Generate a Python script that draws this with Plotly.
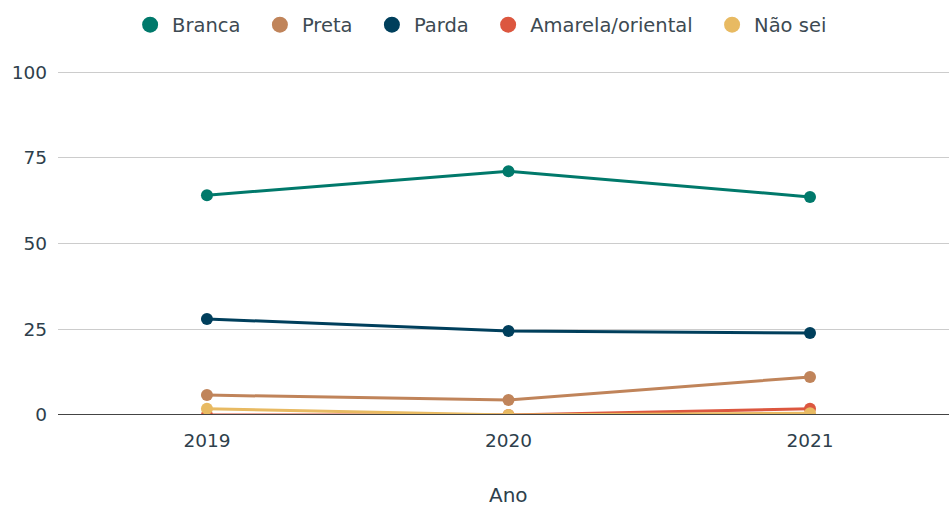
import plotly.graph_objects as go

anos = [2019, 2020, 2021]

categorias = ["Branca", "Preta", "Parda", "Amarela/oriental", "Não sei"]
branca = [64.1, 71.1, 63.6]
preta = [5.8, 4.4, 11.1]
parda = [28.0, 24.5, 23.9]
amarela = [0.0, 0.0, 1.8]
nao_sei = [1.8, 0.0, 0.5]

cores = ["#00796b", "#c0845a", "#003f5c", "#dc573f", "#e8ba62"]

series = [branca, preta, parda, amarela, nao_sei]

fig = go.Figure()
for i, (nome, valores, cor) in enumerate(zip(categorias, series, cores)):
    # linha + pontos, sem legenda
    fig.add_trace(go.Scatter(
        x=anos,
        y=valores,
        name=nome,
        mode="lines+markers",
        line=dict(color=cor, width=3),
        marker=dict(color=cor, size=12),
        showlegend=False,
        legendgroup=nome,
    ))
    # entrada da legenda só com o círculo (espaços no fim para afastar os itens)
    rotulo = nome if i == len(categorias) - 1 else nome + "\u00a0\u00a0"
    fig.add_trace(go.Scatter(
        x=[None],
        y=[None],
        name=rotulo,
        mode="markers",
        marker=dict(color=cor, size=20),
        legendgroup=nome,
    ))

fig.update_layout(
    width=949,
    height=506,
    margin=dict(l=58, r=0, t=55, b=91),
    plot_bgcolor="white",
    paper_bgcolor="white",
    font=dict(family="DejaVu Sans", size=18.5, color="#2e3f4c"),
    legend=dict(
        orientation="h",
        xref="container", yref="container",
        x=0.135, xanchor="left",
        y=0.9506, yanchor="middle",
        itemwidth=34,
        font=dict(size=19.5, color="#3d4a52"),
    ),
    xaxis=dict(
        range=[2018.506, 2021.461],
        tickvals=anos,
        ticktext=[str(a) for a in anos],
        showgrid=False,
        zeroline=False,
        showline=False,
        automargin=False,
        ticklabelstandoff=12,
    ),
    yaxis=dict(
        range=[0, 105],
        tickvals=[0, 25, 50, 75, 100],
        gridcolor="#cccccc",
        gridwidth=1,
        zeroline=False,
        showline=False,
        ticks="",
        automargin=False,
        ticklabelstandoff=10,
    ),
    shapes=[dict(type="line", xref="paper", yref="y", x0=0, x1=1, y0=0, y1=0,
                 line=dict(color="#444444", width=2), layer="above")],
    # título do eixo x como anotação (o title ficava preso na margem)
    annotations=[dict(text="Ano", xref="x", yref="paper", x=2020, y=-0.221,
                      xanchor="center", yanchor="middle", showarrow=False,
                      font=dict(size=20, color="#2e3f4c"))],
)

# tira a margem padrão do body para a figura ocupar a janela toda
fig.write_html(
    "out.html",
    config={"displayModeBar": False},
    post_script="document.body.style.margin='0';",
)
